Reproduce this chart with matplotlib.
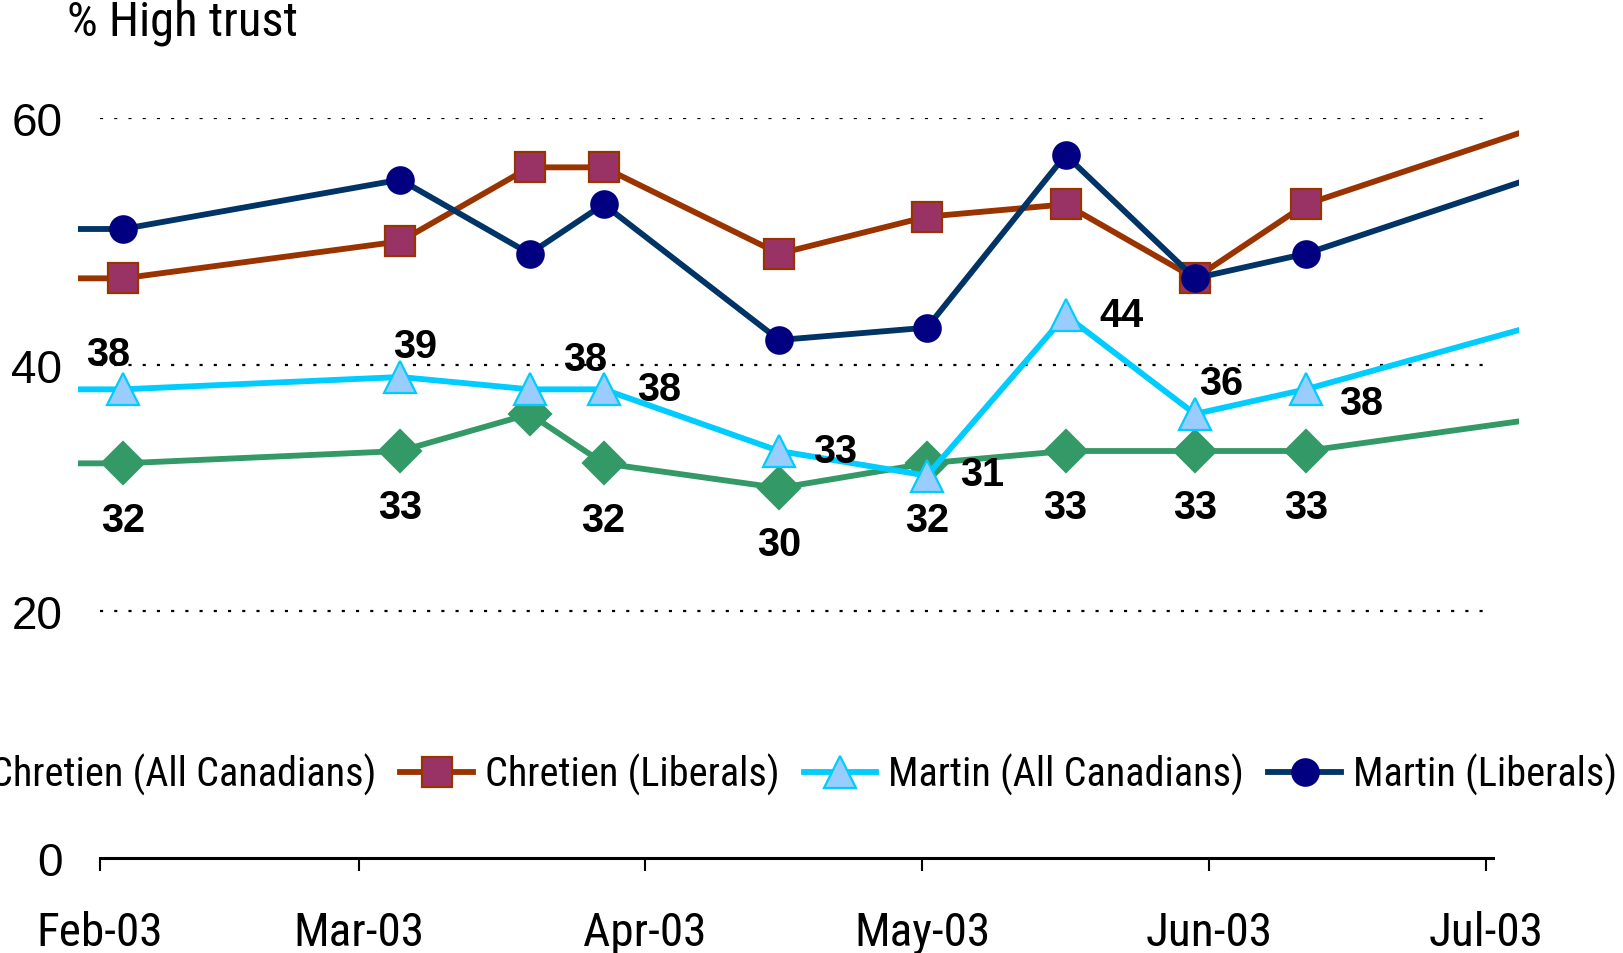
import matplotlib
matplotlib.use("Agg")
import matplotlib.pyplot as plt
import matplotlib.dates as mdates
from matplotlib.lines import Line2D
from matplotlib import font_manager
import pandas as pd

# ---------------- data ----------------
survey_dates = ["2003-02-03", "2003-03-05", "2003-03-19", "2003-03-27", "2003-04-15",
                "2003-05-01", "2003-05-16", "2003-05-30", "2003-06-11"]
chretien_all = [32, 33, 36, 32, 30, 32, 33, 33, 33]
chretien_lib = [47, 50, 56, 56, 49, 52, 53, 47, 53]
martin_all = [38, 39, 38, 38, 33, 31, 44, 36, 38]
martin_lib = [51, 55, 49, 53, 42, 43, 57, 47, 49]

# readings cut off by the plot edge (segments that continue outside the frame)
lead_date = "2003-01-27"
lead_values = [32, 47, 38, 51]
trail_date = "2003-07-05"
trail_values = [35.5, 59, 43, 55]

chretien_all_labels = ["32", "33", None, "32", "30", "32", "33", "33", "33"]
martin_all_labels = ["38", "39", "38", "38", "33", "31", "44", "36", "38"]

series_names = ["Chretien (All Canadians)", "Chretien (Liberals)",
                "Martin (All Canadians)", "Martin (Liberals)"]
month_ticks = ["2003-02-01", "2003-03-01", "2003-04-01", "2003-05-01", "2003-06-01", "2003-07-01"]
y_ticks = [0, 20, 40, 60]

# ---------------- styles ----------------
styles = [
    dict(color="#339966", marker="D", mfc="#339966", mec="#339966", ms=21),
    dict(color="#993300", marker="s", mfc="#993366", mec="#993300", ms=21),
    dict(color="#00CCFF", marker="^", mfc="#99CCFF", mec="#00CCFF", ms=23),
    dict(color="#003366", marker="o", mfc="#000080", mec="#000080", ms=19),
]
LW = 4.2

narrow = ["Liberation Sans Narrow", "Roboto Condensed", "Open Sans Condensed",
          "DejaVu Sans Condensed", "Liberation Sans", "DejaVu Sans"]
regular = ["Liberation Sans", "DejaVu Sans"]

W, H = 1623, 954
fig = plt.figure(figsize=(W / 100, H / 100), dpi=100)
fig.patch.set_facecolor("white")

ax_left_px, ax_right_px = 77.6, 1519
ax_bottom_px, ax_top_px = 859, 119
ax = fig.add_axes([ax_left_px / W, 1 - ax_bottom_px / H,
                   (ax_right_px - ax_left_px) / W, (ax_bottom_px - ax_top_px) / H])

feb1 = mdates.date2num(pd.Timestamp("2003-02-01"))
jul1 = mdates.date2num(pd.Timestamp("2003-07-01"))
px_per_day = (1486 - 100) / (jul1 - feb1)
ax.set_xlim(feb1 - (100 - ax_left_px) / px_per_day, jul1 + (ax_right_px - 1486) / px_per_day)
ax.set_ylim(0, 60)

# gridlines
ax.hlines([20, 40, 60], feb1, jul1, colors="black", linestyles=(0, (1.4, 5.0)), lw=1.6, zorder=1)

# points sit in the middle of their day slot (date axis, "between tick marks")
day_center = pd.Timedelta(hours=12)
x_survey = pd.to_datetime(survey_dates) + day_center
x_all = pd.to_datetime([lead_date] + survey_dates + [trail_date]) + day_center
all_series = [chretien_all, chretien_lib, martin_all, martin_lib]
handles = []
for i, (vals, st) in enumerate(zip(all_series, styles)):
    full = [lead_values[i]] + list(vals) + [trail_values[i]]
    ax.plot(x_all, full, color=st["color"], lw=LW, solid_joinstyle="miter", zorder=2 + i)
    ax.plot(x_survey, vals, linestyle="none", marker=st["marker"], ms=st["ms"],
            mfc=st["mfc"], mec=st["mec"], mew=1.6, zorder=2 + i)
    handles.append(Line2D([], [], color=st["color"], lw=LW, marker=st["marker"], ms=st["ms"],
                          mfc=st["mfc"], mec=st["mec"], mew=1.6))

# data labels
martin_offsets = [(-10.5, 25.5), (11, 22), (40, 22), (40, 0), (40, 0), (40, 1), (40, 0), (19, 22), (40, -10)]
for d, v, lab, off in zip(x_survey, martin_all, martin_all_labels, martin_offsets):
    if lab:
        ax.annotate(lab, (d, v), xytext=off, textcoords="offset points", ha="center", va="center",
                    fontsize=28.5, fontweight="bold", family=regular, zorder=10)
for d, v, lab in zip(x_survey, chretien_all, chretien_all_labels):
    if lab:
        ax.annotate(lab, (d, v), xytext=(0, -40.5), textcoords="offset points", ha="center", va="center",
                    fontsize=28.5, fontweight="bold", family=regular, zorder=10)

# axes styling
for s in ["top", "right", "left"]:
    ax.spines[s].set_visible(False)
ax.spines["bottom"].set_linewidth(2.2)
ax.spines["bottom"].set_bounds(feb1, jul1 + 0.8)
ax.set_xticks(pd.to_datetime(month_ticks))
ax.xaxis.set_major_formatter(mdates.DateFormatter("%b-%y"))
ax.tick_params(axis="x", direction="out", length=9.5, width=1.5, pad=28, labelsize=34)
ax.set_yticks(y_ticks)
ax.set_yticklabels([str(t) for t in y_ticks])
ax.tick_params(axis="y", length=0, pad=11, labelsize=33)
for lab in ax.get_xticklabels():
    lab.set_family(narrow)
for lab in ax.get_yticklabels():
    lab.set_family(regular)

fig.text(67 / W, 1 - 23 / H, "% High trust", fontsize=35, family=narrow, va="center", ha="left")

fig.legend(handles, series_names, loc="center right", bbox_to_anchor=(1617 / W, 1 - 775 / H),
           ncol=4, frameon=False, borderpad=0, borderaxespad=0, handlelength=1.8,
           handletextpad=0.3, columnspacing=0.6,
           prop=font_manager.FontProperties(family=narrow, size=29))

fig.savefig("out.png", dpi=100, facecolor="white")
